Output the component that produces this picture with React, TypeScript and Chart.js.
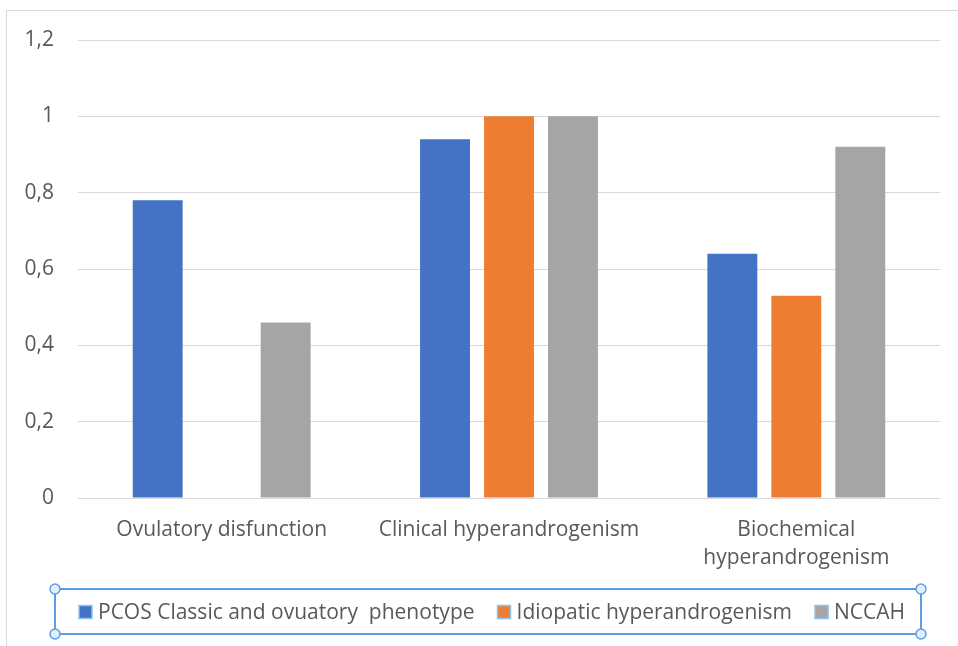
import React, { useEffect, useRef } from "react";
import { Chart, registerables } from "chart.js";

Chart.register(...registerables);

const categories: (string | string[])[] = [
  "Ovulatory disfunction",
  "Clinical hyperandrogenism",
  ["Biochemical", "hyperandrogenism"],
];
const pcosValues: (number | null)[] = [0.78, 0.94, 0.64];
const idiopaticValues: (number | null)[] = [null, 1, 0.53];
const nccahValues: (number | null)[] = [0.46, 1, 0.92];
const seriesNames = [
  "PCOS Classic and ovuatory  phenotype",
  "Idiopatic hyperandrogenism",
  "NCCAH",
];
const seriesColors = ["#4472C4", "#ED7D31", "#A5A5A5"];
const yTicks = [0, 0.2, 0.4, 0.6, 0.8, 1, 1.2];

const FONT = "'Open Sans', 'Noto Sans', sans-serif";
const TEXT = "#595959";

const framePlugin = {
  id: "frame",
  beforeDraw(chart: any) {
    const { ctx, width, height } = chart;
    ctx.save();
    ctx.fillStyle = "#ffffff";
    ctx.fillRect(0, 0, width, height);
    ctx.strokeStyle = "#d9d9d9";
    ctx.lineWidth = 1;
    ctx.beginPath();
    ctx.moveTo(6.5, height);
    ctx.lineTo(6.5, 10.5);
    ctx.lineTo(width, 10.5);
    ctx.stroke();
    ctx.restore();
  },
  afterDraw(chart: any) {
    const { ctx } = chart;
    ctx.save();
    // legend (drawn from the dataset labels and colours)
    ctx.font = `21px ${FONT}`;
    ctx.textBaseline = "middle";
    ctx.textAlign = "left";
    const box = 13, gapBoxText = 6, gapItems = 23;
    const ds = chart.data.datasets;
    const widths = ds.map((d: any) => ctx.measureText(d.label).width);
    const total =
      widths.reduce((a: number, b: number) => a + b, 0) +
      ds.length * (box + gapBoxText) +
      (ds.length - 1) * gapItems;
    let x = Math.round(492 - total / 2);
    const cy = 612;
    ds.forEach((d: any, i: number) => {
      ctx.fillStyle = d.backgroundColor;
      ctx.fillRect(x, cy - box / 2, box, box);
      ctx.strokeStyle = "#8cc2f0";
      ctx.lineWidth = 1.5;
      ctx.strokeRect(x, cy - box / 2, box, box);
      ctx.fillStyle = TEXT;
      ctx.fillText(d.label, x + box + gapBoxText, cy + 1);
      x += box + gapBoxText + widths[i] + gapItems;
    });
    // selection frame around the legend
    const x1 = 55, y1 = 589, x2 = 921, y2 = 634;
    ctx.strokeStyle = "#5b9fe3";
    ctx.lineWidth = 2;
    ctx.strokeRect(x1, y1, x2 - x1, y2 - y1);
    const pts = [[x1, y1], [x2, y1], [x1, y2], [x2, y2]];
    for (const [px, py] of pts) {
      ctx.beginPath();
      ctx.arc(px, py, 5, 0, Math.PI * 2);
      ctx.fillStyle = "#e3effb";
      ctx.fill();
      ctx.lineWidth = 1.5;
      ctx.stroke();
    }
    ctx.restore();
  },
};

export default function App() {
  const ref = useRef<HTMLCanvasElement | null>(null);
  useEffect(() => {
    if (!ref.current) return;
    const chart = new Chart(ref.current, {
      type: "bar",
      data: {
        labels: categories,
        datasets: [
          { label: seriesNames[0], data: pcosValues, backgroundColor: seriesColors[0] },
          { label: seriesNames[1], data: idiopaticValues, backgroundColor: seriesColors[1] },
          { label: seriesNames[2], data: nccahValues, backgroundColor: seriesColors[2] },
        ],
      },
      options: {
        responsive: false,
        animation: false,
        datasets: {
          bar: { categoryPercentage: 0.668, barPercentage: 0.78 },
        },
        layout: { padding: { left: 0, right: 18, top: 40, bottom: 73 } },
        scales: {
          x: {
            grid: { display: false, drawTicks: false },
            border: { display: false },
            ticks: {
              color: TEXT,
              font: { family: FONT, size: 21, lineHeight: 1.34 },
              padding: 18,
              maxRotation: 0,
              autoSkip: false,
            },
            afterFit(scale: any) {
              scale.height = 75;
            },
          },
          y: {
            min: 0,
            max: 1.2,
            afterBuildTicks(scale: any) {
              scale.ticks = yTicks.map((v) => ({ value: v }));
            },
            grid: { color: "#d9d9d9", lineWidth: 1, drawTicks: false },
            border: { display: false },
            ticks: {
              color: TEXT,
              font: { family: FONT, size: 21 },
              padding: 24,
              callback: (v: any) => String(Math.round(Number(v) * 10) / 10).replace(".", ","),
            },
            afterFit(scale: any) {
              scale.width = 78;
            },
          },
        },
        plugins: {
          legend: { display: false },
          tooltip: { enabled: false },
        },
      },
      plugins: [framePlugin],
    } as any);
    return () => chart.destroy();
  }, []);
  return (
    <div style={{ position: "fixed", left: 0, top: 0, width: 958, height: 646 }}>
      <canvas ref={ref} width={958} height={646} />
    </div>
  );
}
